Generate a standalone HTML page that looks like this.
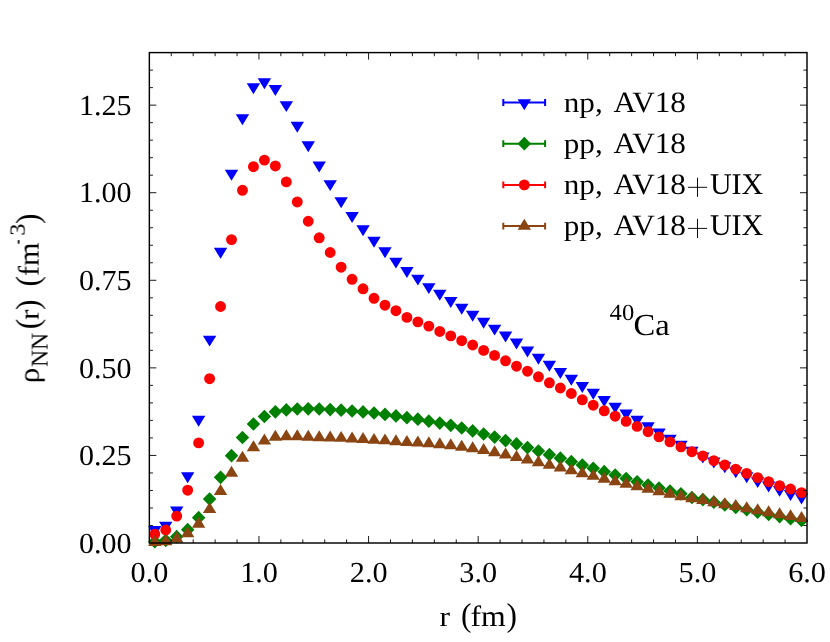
<!DOCTYPE html>
<html><head><meta charset="utf-8"><title>rho_NN</title>
<style>html,body{margin:0;padding:0;background:#fff;}svg{display:block;}body{font-family:"Liberation Serif",serif;}</style></head>
<body>
<svg width="830" height="642" viewBox="0 0 830 642">
<rect width="830" height="642" fill="#ffffff"/>
<path fill="#0000ff" d="M148.08 525.96L161.48 525.96L154.78 536.91ZM159.04 521.76L172.44 521.76L165.74 532.71ZM170.00 506.53L183.40 506.53L176.70 517.48ZM180.97 472.26L194.37 472.26L187.67 483.21ZM191.93 415.86L205.33 415.86L198.63 426.81ZM202.89 335.66L216.29 335.66L209.59 346.61ZM213.85 247.87L227.25 247.87L220.55 258.82ZM224.81 169.76L238.21 169.76L231.51 180.71ZM235.77 114.31L249.17 114.31L242.47 125.26ZM246.74 83.26L260.14 83.26L253.44 94.21ZM257.70 78.36L271.10 78.36L264.40 89.31ZM268.66 85.12L282.06 85.12L275.36 96.07ZM279.62 101.15L293.02 101.15L286.32 112.10ZM290.58 121.77L303.98 121.77L297.28 132.72ZM301.54 141.27L314.94 141.27L308.24 152.22ZM312.51 161.57L325.91 161.57L319.21 172.52ZM323.47 180.16L336.87 180.16L330.17 191.11ZM334.43 197.28L347.83 197.28L341.13 208.23ZM345.39 211.98L358.79 211.98L352.09 222.93ZM356.35 225.18L369.75 225.18L363.05 236.13ZM367.31 236.77L380.71 236.77L374.01 247.72ZM378.28 247.27L391.68 247.27L384.98 258.22ZM389.24 257.67L402.64 257.67L395.94 268.62ZM400.20 266.94L413.60 266.94L406.90 277.89ZM411.16 274.65L424.56 274.65L417.86 285.60ZM422.12 283.15L435.52 283.15L428.82 294.10ZM433.08 289.73L446.48 289.73L439.78 300.68ZM444.05 296.95L457.45 296.95L450.75 307.90ZM455.01 303.77L468.41 303.77L461.71 314.72ZM465.97 310.84L479.37 310.84L472.67 321.79ZM476.93 317.70L490.33 317.70L483.63 328.65ZM487.89 324.67L501.29 324.67L494.59 335.62ZM498.85 331.53L512.25 331.53L505.55 342.48ZM509.82 338.53L523.22 338.53L516.52 349.48ZM520.78 346.45L534.18 346.45L527.48 357.40ZM531.74 353.76L545.14 353.76L538.44 364.71ZM542.70 360.76L556.10 360.76L549.40 371.71ZM553.66 367.94L567.06 367.94L560.36 378.89ZM564.62 374.84L578.02 374.84L571.32 385.79ZM575.59 381.98L588.99 381.98L582.29 392.93ZM586.55 388.77L599.95 388.77L593.25 399.72ZM597.51 396.05L610.91 396.05L604.21 407.00ZM608.47 402.67L621.87 402.67L615.17 413.62ZM619.43 409.46L632.83 409.46L626.13 420.41ZM630.39 415.76L643.79 415.76L637.09 426.71ZM641.36 422.34L654.76 422.34L648.06 433.29ZM652.32 428.54L665.72 428.54L659.02 439.49ZM663.28 434.77L676.68 434.77L669.98 445.72ZM674.24 440.75L687.64 440.75L680.94 451.70ZM685.20 446.67L698.60 446.67L691.90 457.62ZM696.16 452.45L709.56 452.45L702.86 463.40ZM707.13 457.56L720.53 457.56L713.83 468.51ZM718.09 462.28L731.49 462.28L724.79 473.23ZM729.05 467.26L742.45 467.26L735.75 478.21ZM740.01 472.26L753.41 472.26L746.71 483.21ZM750.97 477.16L764.37 477.16L757.67 488.11ZM761.93 481.61L775.33 481.61L768.63 492.56ZM772.90 485.91L786.30 485.91L779.60 496.86ZM783.86 490.01L797.26 490.01L790.56 500.96ZM794.82 493.62L808.22 493.62L801.52 504.57Z"/>
<path fill="#008000" d="M154.78 534.84L161.53 541.69L154.78 548.54L148.03 541.69ZM165.74 533.44L172.49 540.29L165.74 547.14L158.99 540.29ZM176.70 529.80L183.45 536.65L176.70 543.50L169.95 536.65ZM187.67 522.80L194.42 529.65L187.67 536.50L180.92 529.65ZM198.63 510.86L205.38 517.71L198.63 524.56L191.88 517.71ZM209.59 492.24L216.34 499.09L209.59 505.94L202.84 499.09ZM220.55 470.46L227.30 477.31L220.55 484.16L213.80 477.31ZM231.51 448.86L238.26 455.71L231.51 462.56L224.76 455.71ZM242.47 430.66L249.22 437.51L242.47 444.36L235.72 437.51ZM253.44 417.15L260.19 424.00L253.44 430.85L246.69 424.00ZM264.40 409.65L271.15 416.50L264.40 423.35L257.65 416.50ZM275.36 404.96L282.11 411.81L275.36 418.66L268.61 411.81ZM286.32 403.07L293.07 409.92L286.32 416.77L279.57 409.92ZM297.28 402.16L304.03 409.01L297.28 415.86L290.53 409.01ZM308.24 401.95L314.99 408.80L308.24 415.65L301.49 408.80ZM319.21 402.16L325.96 409.01L319.21 415.86L312.46 409.01ZM330.17 402.72L336.92 409.57L330.17 416.42L323.42 409.57ZM341.13 403.35L347.88 410.20L341.13 417.05L334.38 410.20ZM352.09 404.16L358.84 411.01L352.09 417.86L345.34 411.01ZM363.05 405.07L369.80 411.92L363.05 418.77L356.30 411.92ZM374.01 406.15L380.76 413.00L374.01 419.85L367.26 413.00ZM384.98 407.55L391.73 414.40L384.98 421.25L378.23 414.40ZM395.94 409.06L402.69 415.91L395.94 422.76L389.19 415.91ZM406.90 410.84L413.65 417.69L406.90 424.54L400.15 417.69ZM417.86 412.35L424.61 419.20L417.86 426.05L411.11 419.20ZM428.82 414.35L435.57 421.20L428.82 428.05L422.07 421.20ZM439.78 416.20L446.53 423.05L439.78 429.90L433.03 423.05ZM450.75 418.48L457.50 425.33L450.75 432.18L444.00 425.33ZM461.71 421.17L468.46 428.02L461.71 434.87L454.96 428.02ZM472.67 424.08L479.42 430.93L472.67 437.78L465.92 430.93ZM483.63 427.16L490.38 434.01L483.63 440.86L476.88 434.01ZM494.59 430.27L501.34 437.12L494.59 443.97L487.84 437.12ZM505.55 433.74L512.30 440.59L505.55 447.44L498.80 440.59ZM516.52 437.06L523.27 443.91L516.52 450.76L509.77 443.91ZM527.48 440.74L534.23 447.59L527.48 454.44L520.73 447.59ZM538.44 444.14L545.19 450.99L538.44 457.84L531.69 450.99ZM549.40 447.85L556.15 454.70L549.40 461.55L542.65 454.70ZM560.36 451.35L567.11 458.20L560.36 465.05L553.61 458.20ZM571.32 454.85L578.07 461.70L571.32 468.55L564.57 461.70ZM582.29 458.24L589.04 465.09L582.29 471.94L575.54 465.09ZM593.25 461.46L600.00 468.31L593.25 475.16L586.50 468.31ZM604.21 464.86L610.96 471.71L604.21 478.56L597.46 471.71ZM615.17 468.15L621.92 475.00L615.17 481.85L608.42 475.00ZM626.13 471.65L632.88 478.50L626.13 485.35L619.38 478.50ZM637.09 474.94L643.84 481.79L637.09 488.64L630.34 481.79ZM648.06 478.27L654.81 485.12L648.06 491.97L641.31 485.12ZM659.02 481.14L665.77 487.99L659.02 494.84L652.27 487.99ZM669.98 484.25L676.73 491.10L669.98 497.95L663.23 491.10ZM680.94 486.95L687.69 493.80L680.94 500.65L674.19 493.80ZM691.90 490.66L698.65 497.51L691.90 504.36L685.15 497.51ZM702.86 492.69L709.61 499.54L702.86 506.39L696.11 499.54ZM713.83 495.35L720.58 502.20L713.83 509.05L707.08 502.20ZM724.79 498.12L731.54 504.97L724.79 511.82L718.04 504.97ZM735.75 500.60L742.50 507.45L735.75 514.30L729.00 507.45ZM746.71 502.91L753.46 509.76L746.71 516.61L739.96 509.76ZM757.67 505.29L764.42 512.14L757.67 518.99L750.92 512.14ZM768.63 507.53L775.38 514.38L768.63 521.23L761.88 514.38ZM779.60 509.74L786.35 516.59L779.60 523.44L772.85 516.59ZM790.56 511.84L797.31 518.69L790.56 525.54L783.81 518.69ZM801.52 513.63L808.27 520.48L801.52 527.33L794.77 520.48Z"/>
<path fill="#ff0000" d="M149.33 534.20a5.45 5.45 0 1 0 10.90 0a5.45 5.45 0 1 0 -10.90 0ZM160.29 530.00a5.45 5.45 0 1 0 10.90 0a5.45 5.45 0 1 0 -10.90 0ZM171.25 516.10a5.45 5.45 0 1 0 10.90 0a5.45 5.45 0 1 0 -10.90 0ZM182.22 490.23a5.45 5.45 0 1 0 10.90 0a5.45 5.45 0 1 0 -10.90 0ZM193.18 442.90a5.45 5.45 0 1 0 10.90 0a5.45 5.45 0 1 0 -10.90 0ZM204.14 378.70a5.45 5.45 0 1 0 10.90 0a5.45 5.45 0 1 0 -10.90 0ZM215.10 306.51a5.45 5.45 0 1 0 10.90 0a5.45 5.45 0 1 0 -10.90 0ZM226.06 239.61a5.45 5.45 0 1 0 10.90 0a5.45 5.45 0 1 0 -10.90 0ZM237.02 190.32a5.45 5.45 0 1 0 10.90 0a5.45 5.45 0 1 0 -10.90 0ZM247.99 166.69a5.45 5.45 0 1 0 10.90 0a5.45 5.45 0 1 0 -10.90 0ZM258.95 160.11a5.45 5.45 0 1 0 10.90 0a5.45 5.45 0 1 0 -10.90 0ZM269.91 165.92a5.45 5.45 0 1 0 10.90 0a5.45 5.45 0 1 0 -10.90 0ZM280.87 181.92a5.45 5.45 0 1 0 10.90 0a5.45 5.45 0 1 0 -10.90 0ZM291.83 201.98a5.45 5.45 0 1 0 10.90 0a5.45 5.45 0 1 0 -10.90 0ZM302.79 221.23a5.45 5.45 0 1 0 10.90 0a5.45 5.45 0 1 0 -10.90 0ZM313.76 237.79a5.45 5.45 0 1 0 10.90 0a5.45 5.45 0 1 0 -10.90 0ZM324.72 252.50a5.45 5.45 0 1 0 10.90 0a5.45 5.45 0 1 0 -10.90 0ZM335.68 267.20a5.45 5.45 0 1 0 10.90 0a5.45 5.45 0 1 0 -10.90 0ZM346.64 279.31a5.45 5.45 0 1 0 10.90 0a5.45 5.45 0 1 0 -10.90 0ZM357.60 288.80a5.45 5.45 0 1 0 10.90 0a5.45 5.45 0 1 0 -10.90 0ZM368.56 298.29a5.45 5.45 0 1 0 10.90 0a5.45 5.45 0 1 0 -10.90 0ZM379.53 305.22a5.45 5.45 0 1 0 10.90 0a5.45 5.45 0 1 0 -10.90 0ZM390.49 310.71a5.45 5.45 0 1 0 10.90 0a5.45 5.45 0 1 0 -10.90 0ZM401.45 317.40a5.45 5.45 0 1 0 10.90 0a5.45 5.45 0 1 0 -10.90 0ZM412.41 321.91a5.45 5.45 0 1 0 10.90 0a5.45 5.45 0 1 0 -10.90 0ZM423.37 326.12a5.45 5.45 0 1 0 10.90 0a5.45 5.45 0 1 0 -10.90 0ZM434.33 331.44a5.45 5.45 0 1 0 10.90 0a5.45 5.45 0 1 0 -10.90 0ZM445.30 335.88a5.45 5.45 0 1 0 10.90 0a5.45 5.45 0 1 0 -10.90 0ZM456.26 340.71a5.45 5.45 0 1 0 10.90 0a5.45 5.45 0 1 0 -10.90 0ZM467.22 344.98a5.45 5.45 0 1 0 10.90 0a5.45 5.45 0 1 0 -10.90 0ZM478.18 350.41a5.45 5.45 0 1 0 10.90 0a5.45 5.45 0 1 0 -10.90 0ZM489.14 355.42a5.45 5.45 0 1 0 10.90 0a5.45 5.45 0 1 0 -10.90 0ZM500.10 360.81a5.45 5.45 0 1 0 10.90 0a5.45 5.45 0 1 0 -10.90 0ZM511.07 366.20a5.45 5.45 0 1 0 10.90 0a5.45 5.45 0 1 0 -10.90 0ZM522.03 371.21a5.45 5.45 0 1 0 10.90 0a5.45 5.45 0 1 0 -10.90 0ZM532.99 376.81a5.45 5.45 0 1 0 10.90 0a5.45 5.45 0 1 0 -10.90 0ZM543.95 382.79a5.45 5.45 0 1 0 10.90 0a5.45 5.45 0 1 0 -10.90 0ZM554.91 388.01a5.45 5.45 0 1 0 10.90 0a5.45 5.45 0 1 0 -10.90 0ZM565.87 393.50a5.45 5.45 0 1 0 10.90 0a5.45 5.45 0 1 0 -10.90 0ZM576.84 399.81a5.45 5.45 0 1 0 10.90 0a5.45 5.45 0 1 0 -10.90 0ZM587.80 405.20a5.45 5.45 0 1 0 10.90 0a5.45 5.45 0 1 0 -10.90 0ZM598.76 410.80a5.45 5.45 0 1 0 10.90 0a5.45 5.45 0 1 0 -10.90 0ZM609.72 416.19a5.45 5.45 0 1 0 10.90 0a5.45 5.45 0 1 0 -10.90 0ZM620.68 421.41a5.45 5.45 0 1 0 10.90 0a5.45 5.45 0 1 0 -10.90 0ZM631.64 426.41a5.45 5.45 0 1 0 10.90 0a5.45 5.45 0 1 0 -10.90 0ZM642.61 431.70a5.45 5.45 0 1 0 10.90 0a5.45 5.45 0 1 0 -10.90 0ZM653.57 436.91a5.45 5.45 0 1 0 10.90 0a5.45 5.45 0 1 0 -10.90 0ZM664.53 441.88a5.45 5.45 0 1 0 10.90 0a5.45 5.45 0 1 0 -10.90 0ZM675.49 446.89a5.45 5.45 0 1 0 10.90 0a5.45 5.45 0 1 0 -10.90 0ZM686.45 451.69a5.45 5.45 0 1 0 10.90 0a5.45 5.45 0 1 0 -10.90 0ZM697.41 455.89a5.45 5.45 0 1 0 10.90 0a5.45 5.45 0 1 0 -10.90 0ZM708.38 460.58a5.45 5.45 0 1 0 10.90 0a5.45 5.45 0 1 0 -10.90 0ZM719.34 464.95a5.45 5.45 0 1 0 10.90 0a5.45 5.45 0 1 0 -10.90 0ZM730.30 469.09a5.45 5.45 0 1 0 10.90 0a5.45 5.45 0 1 0 -10.90 0ZM741.26 473.39a5.45 5.45 0 1 0 10.90 0a5.45 5.45 0 1 0 -10.90 0ZM752.22 477.59a5.45 5.45 0 1 0 10.90 0a5.45 5.45 0 1 0 -10.90 0ZM763.18 481.69a5.45 5.45 0 1 0 10.90 0a5.45 5.45 0 1 0 -10.90 0ZM774.15 485.71a5.45 5.45 0 1 0 10.90 0a5.45 5.45 0 1 0 -10.90 0ZM785.11 489.00a5.45 5.45 0 1 0 10.90 0a5.45 5.45 0 1 0 -10.90 0ZM796.07 492.61a5.45 5.45 0 1 0 10.90 0a5.45 5.45 0 1 0 -10.90 0Z"/>
<path fill="#8b4513" d="M148.08 546.04L161.48 546.04L154.78 535.09ZM159.04 545.20L172.44 545.20L165.74 534.25ZM170.00 542.43L183.40 542.43L176.70 531.48ZM180.97 537.15L194.37 537.15L187.67 526.20ZM191.93 527.70L205.33 527.70L198.63 516.75ZM202.89 513.06L216.29 513.06L209.59 502.11ZM213.85 494.96L227.25 494.96L220.55 484.01ZM224.81 476.66L238.21 476.66L231.51 465.71ZM235.77 461.64L249.17 461.64L242.47 450.69ZM246.74 451.14L260.14 451.14L253.44 440.19ZM257.70 444.45L271.10 444.45L264.40 433.50ZM268.66 440.67L282.06 440.67L275.36 429.72ZM279.62 440.25L293.02 440.25L286.32 429.30ZM290.58 440.18L303.98 440.18L297.28 429.23ZM301.54 440.74L314.94 440.74L308.24 429.79ZM312.51 441.16L325.91 441.16L319.21 430.21ZM323.47 441.44L336.87 441.44L330.17 430.49ZM334.43 441.86L347.83 441.86L341.13 430.91ZM345.39 442.45L358.79 442.45L352.09 431.50ZM356.35 443.05L369.75 443.05L363.05 432.10ZM367.31 443.85L380.71 443.85L374.01 432.90ZM378.28 444.34L391.68 444.34L384.98 433.39ZM389.24 445.15L402.64 445.15L395.94 434.20ZM400.20 445.95L413.60 445.95L406.90 435.00ZM411.16 446.55L424.56 446.55L417.86 435.60ZM422.12 447.25L435.52 447.25L428.82 436.30ZM433.08 448.23L446.48 448.23L439.78 437.28ZM444.05 449.14L457.45 449.14L450.75 438.19ZM455.01 450.65L468.41 450.65L461.71 439.70ZM465.97 452.26L479.37 452.26L472.67 441.31ZM476.93 453.94L490.33 453.94L483.63 442.99ZM487.89 456.14L501.29 456.14L494.59 445.19ZM498.85 458.45L512.25 458.45L505.55 447.50ZM509.82 460.94L523.22 460.94L516.52 449.99ZM520.78 463.46L534.18 463.46L527.48 452.51ZM531.74 466.15L545.14 466.15L538.44 455.20ZM542.70 468.85L556.10 468.85L549.40 457.90ZM553.66 471.54L567.06 471.54L560.36 460.59ZM564.62 474.24L578.02 474.24L571.32 463.29ZM575.59 477.15L588.99 477.15L582.29 466.20ZM586.55 479.84L599.95 479.84L593.25 468.89ZM597.51 482.64L610.91 482.64L604.21 471.69ZM608.47 485.34L621.87 485.34L615.17 474.39ZM619.43 487.86L632.83 487.86L626.13 476.91ZM630.39 490.34L643.79 490.34L637.09 479.39ZM641.36 492.86L654.76 492.86L648.06 481.91ZM652.32 495.35L665.72 495.35L659.02 484.40ZM663.28 497.84L676.68 497.84L669.98 486.89ZM674.24 500.15L687.64 500.15L680.94 489.20ZM685.20 502.14L698.60 502.14L691.90 491.19ZM696.16 503.89L709.56 503.89L702.86 492.94ZM707.13 506.27L720.53 506.27L713.83 495.32ZM718.09 508.27L731.49 508.27L724.79 497.32ZM729.05 509.98L742.45 509.98L735.75 499.03ZM740.01 512.29L753.41 512.29L746.71 501.34ZM750.97 514.29L764.37 514.29L757.67 503.34ZM761.93 516.18L775.33 516.18L768.63 505.23ZM772.90 518.17L786.30 518.17L779.60 507.22ZM783.86 520.10L797.26 520.10L790.56 509.15ZM794.82 521.99L808.22 521.99L801.52 511.04Z"/>
<path stroke="#0000ff" stroke-width="2" fill="none" d="M502.7 102.5H545.7M503.3 99.1V105.9M545.1 99.1V105.9"/>
<path fill="#0000ff" d="M517.60 99.20L531.00 99.20L524.30 110.15Z"/>
<path stroke="#008000" stroke-width="2" fill="none" d="M502.7 143.7H545.7M503.3 140.29999999999998V147.1M545.1 140.29999999999998V147.1"/>
<path fill="#008000" d="M524.30 136.85L531.05 143.70L524.30 150.55L517.55 143.70Z"/>
<path stroke="#ff0000" stroke-width="2" fill="none" d="M502.7 184.9H545.7M503.3 181.5V188.3M545.1 181.5V188.3"/>
<path fill="#ff0000" d="M518.85 184.90a5.45 5.45 0 1 0 10.90 0a5.45 5.45 0 1 0 -10.90 0Z"/>
<path stroke="#8b4513" stroke-width="2" fill="none" d="M502.7 226.1H545.7M503.3 222.7V229.5M545.1 222.7V229.5"/>
<path fill="#8b4513" d="M517.60 229.75L531.00 229.75L524.30 218.80Z"/>
<path stroke="#000" stroke-width="0.9" fill="none" d="M171.27 543.00V539.40M171.27 52.60V56.20M193.19 543.00V539.40M193.19 52.60V56.20M215.12 543.00V539.40M215.12 52.60V56.20M237.04 543.00V539.40M237.04 52.60V56.20M258.96 543.00V536.00M258.96 52.60V59.60M280.88 543.00V539.40M280.88 52.60V56.20M302.80 543.00V539.40M302.80 52.60V56.20M324.72 543.00V539.40M324.72 52.60V56.20M346.64 543.00V539.40M346.64 52.60V56.20M368.57 543.00V536.00M368.57 52.60V59.60M390.49 543.00V539.40M390.49 52.60V56.20M412.41 543.00V539.40M412.41 52.60V56.20M434.33 543.00V539.40M434.33 52.60V56.20M456.25 543.00V539.40M456.25 52.60V56.20M478.17 543.00V536.00M478.17 52.60V59.60M500.10 543.00V539.40M500.10 52.60V56.20M522.02 543.00V539.40M522.02 52.60V56.20M543.94 543.00V539.40M543.94 52.60V56.20M565.86 543.00V539.40M565.86 52.60V56.20M587.78 543.00V536.00M587.78 52.60V59.60M609.71 543.00V539.40M609.71 52.60V56.20M631.63 543.00V539.40M631.63 52.60V56.20M653.55 543.00V539.40M653.55 52.60V56.20M675.47 543.00V539.40M675.47 52.60V56.20M697.39 543.00V536.00M697.39 52.60V59.60M719.31 543.00V539.40M719.31 52.60V56.20M741.24 543.00V539.40M741.24 52.60V56.20M763.16 543.00V539.40M763.16 52.60V56.20M785.08 543.00V539.40M785.08 52.60V56.20M149.35 525.49H152.95M807.00 525.49H803.40M149.35 507.97H152.95M807.00 507.97H803.40M149.35 490.46H152.95M807.00 490.46H803.40M149.35 472.94H152.95M807.00 472.94H803.40M149.35 455.43H156.35M807.00 455.43H800.00M149.35 437.91H152.95M807.00 437.91H803.40M149.35 420.40H152.95M807.00 420.40H803.40M149.35 402.89H152.95M807.00 402.89H803.40M149.35 385.37H152.95M807.00 385.37H803.40M149.35 367.86H156.35M807.00 367.86H800.00M149.35 350.34H152.95M807.00 350.34H803.40M149.35 332.83H152.95M807.00 332.83H803.40M149.35 315.31H152.95M807.00 315.31H803.40M149.35 297.80H152.95M807.00 297.80H803.40M149.35 280.29H156.35M807.00 280.29H800.00M149.35 262.77H152.95M807.00 262.77H803.40M149.35 245.26H152.95M807.00 245.26H803.40M149.35 227.74H152.95M807.00 227.74H803.40M149.35 210.23H152.95M807.00 210.23H803.40M149.35 192.71H156.35M807.00 192.71H800.00M149.35 175.20H152.95M807.00 175.20H803.40M149.35 157.69H152.95M807.00 157.69H803.40M149.35 140.17H152.95M807.00 140.17H803.40M149.35 122.66H152.95M807.00 122.66H803.40M149.35 105.14H156.35M807.00 105.14H800.00M149.35 87.63H152.95M807.00 87.63H803.40M149.35 70.11H152.95M807.00 70.11H803.40"/>
<rect x="149.35" y="52.60" width="657.65" height="490.40" fill="none" stroke="#000" stroke-width="1.45"/>
<g font-family="'Liberation Serif', serif" font-size="28.5" fill="#000" style="text-rendering:geometricPrecision" opacity="0.999">
<text x="79" y="552.70" font-size="29" textLength="52.6" lengthAdjust="spacingAndGlyphs">0.00</text>
<text x="79" y="465.13" font-size="29" textLength="52.6" lengthAdjust="spacingAndGlyphs">0.25</text>
<text x="79" y="377.56" font-size="29" textLength="52.6" lengthAdjust="spacingAndGlyphs">0.50</text>
<text x="79" y="289.99" font-size="29" textLength="52.6" lengthAdjust="spacingAndGlyphs">0.75</text>
<text x="79" y="202.41" font-size="29" textLength="52.6" lengthAdjust="spacingAndGlyphs">1.00</text>
<text x="79" y="114.84" font-size="29" textLength="52.6" lengthAdjust="spacingAndGlyphs">1.25</text>
<text x="130.55" y="581.8" font-size="29" textLength="37.8" lengthAdjust="spacingAndGlyphs">0.0</text>
<text x="240.16" y="581.8" font-size="29" textLength="37.8" lengthAdjust="spacingAndGlyphs">1.0</text>
<text x="349.77" y="581.8" font-size="29" textLength="37.8" lengthAdjust="spacingAndGlyphs">2.0</text>
<text x="459.38" y="581.8" font-size="29" textLength="37.8" lengthAdjust="spacingAndGlyphs">3.0</text>
<text x="568.98" y="581.8" font-size="29" textLength="37.8" lengthAdjust="spacingAndGlyphs">4.0</text>
<text x="678.59" y="581.8" font-size="29" textLength="37.8" lengthAdjust="spacingAndGlyphs">5.0</text>
<text x="788.20" y="581.8" font-size="29" textLength="37.8" lengthAdjust="spacingAndGlyphs">6.0</text>
<text x="439.6" y="625.9" textLength="10.5" lengthAdjust="spacingAndGlyphs">r</text>
<text x="460.9" y="626.3" font-size="33" textLength="10.5" lengthAdjust="spacingAndGlyphs">(</text>
<text x="470.4" y="625.9" font-size="29.5" textLength="35.3" lengthAdjust="spacingAndGlyphs">fm</text>
<text x="506.6" y="626.3" font-size="33" textLength="10.5" lengthAdjust="spacingAndGlyphs">)</text>
<text x="563.7" y="112.2" textLength="39" lengthAdjust="spacingAndGlyphs">np,</text>
<text x="613.6" y="112.2" font-size="29.5" textLength="72.4" lengthAdjust="spacingAndGlyphs">AV18</text>
<text x="563.7" y="153.1" textLength="39" lengthAdjust="spacingAndGlyphs">pp,</text>
<text x="613.6" y="153.1" font-size="29.5" textLength="72.4" lengthAdjust="spacingAndGlyphs">AV18</text>
<text x="563.7" y="194.2" textLength="39" lengthAdjust="spacingAndGlyphs">np,</text>
<text x="613.6" y="194.2" font-size="29.5" textLength="72.4" lengthAdjust="spacingAndGlyphs">AV18</text>
<path stroke="#000" stroke-width="0.95" fill="none" d="M687.9 187.30H707.1M697.5 177.70V196.90"/>
<text x="709.9" y="194.2" font-size="30" textLength="53.4" lengthAdjust="spacingAndGlyphs">UIX</text>
<text x="563.7" y="235.3" textLength="39" lengthAdjust="spacingAndGlyphs">pp,</text>
<text x="613.6" y="235.3" font-size="29.5" textLength="72.4" lengthAdjust="spacingAndGlyphs">AV18</text>
<path stroke="#000" stroke-width="0.95" fill="none" d="M687.9 228.40H707.1M697.5 218.80V238.00"/>
<text x="709.9" y="235.3" font-size="30" textLength="53.4" lengthAdjust="spacingAndGlyphs">UIX</text>
<text x="609.6" y="320.2" font-size="23" textLength="24.6" lengthAdjust="spacingAndGlyphs">40</text>
<text x="633.6" y="335.1" font-size="30.5" textLength="36.2" lengthAdjust="spacingAndGlyphs">Ca</text>
<g transform="translate(38.6 382) rotate(-90)">
<text x="-1.2" y="0" font-size="29" textLength="15.6" lengthAdjust="spacingAndGlyphs">ρ</text>
<text x="14.9" y="8.9" font-size="24" textLength="34.2" lengthAdjust="spacingAndGlyphs">NN</text>
<text x="52.8" y="0.4" font-size="33" textLength="10.5" lengthAdjust="spacingAndGlyphs">(</text>
<text x="62" y="0" textLength="10.5" lengthAdjust="spacingAndGlyphs">r</text>
<text x="72" y="0.4" font-size="33" textLength="10.5" lengthAdjust="spacingAndGlyphs">)</text>
<text x="95.6" y="0.4" font-size="33" textLength="10.5" lengthAdjust="spacingAndGlyphs">(</text>
<text x="106" y="0" font-size="29.5" textLength="33.5" lengthAdjust="spacingAndGlyphs">fm</text>
<rect x="138.3" y="-20.8" width="3.6" height="1.7"/>
<text x="146.3" y="-14.1" font-size="21.5" textLength="12.2" lengthAdjust="spacingAndGlyphs">3</text>
<text x="158" y="0.4" font-size="33" textLength="10.5" lengthAdjust="spacingAndGlyphs">)</text>
</g>
</g>
</svg>
</body></html>
